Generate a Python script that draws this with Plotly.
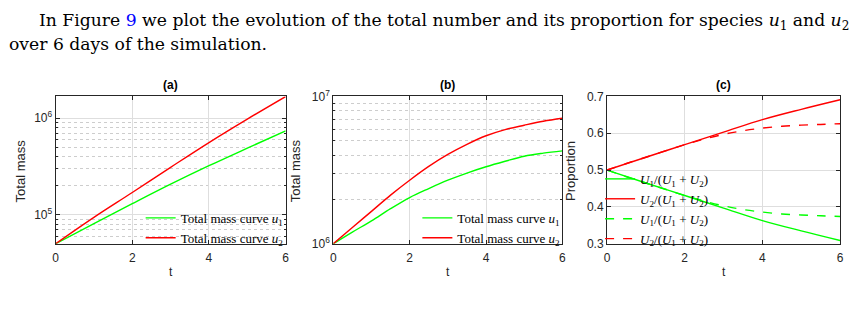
import plotly.graph_objects as go

# ---------------- data ----------------
t_a = [0, 1, 2, 3, 4, 5, 6]
mass_a_u1 = [5.0e4, 8.1e4, 1.30e5, 2.07e5, 3.22e5, 4.9e5, 7.4e5]
mass_a_u2 = [5.0e4, 9.4e4, 1.70e5, 3.10e5, 5.60e5, 9.8e5, 1.68e6]

t_b = [0, 0.5, 1, 1.5, 2, 2.5, 3, 3.5, 4, 4.5, 5, 5.5, 6]
mass_b_u1 = [1.0e6, 1.20e6, 1.43e6, 1.73e6, 2.06e6, 2.37e6, 2.70e6, 3.02e6, 3.33e6, 3.63e6, 3.93e6, 4.12e6, 4.27e6]
mass_b_u2 = [1.0e6, 1.29e6, 1.66e6, 2.14e6, 2.70e6, 3.35e6, 4.04e6, 4.73e6, 5.41e6, 5.96e6, 6.38e6, 6.79e6, 7.11e6]

t_c = [0, 1, 2, 3, 4, 5, 6]
prop_solid_u1 = [0.5, 0.465, 0.431, 0.397, 0.363, 0.335, 0.309]
prop_solid_u2 = [0.5, 0.535, 0.569, 0.603, 0.637, 0.665, 0.691]
t_cd = [0, 0.5, 1, 1.5, 2, 2.5, 3, 3.5, 4, 4.5, 5, 5.5, 6]
prop_dash_u2 = [0.5, 0.518, 0.535, 0.552, 0.569, 0.584, 0.597, 0.607, 0.614, 0.619, 0.622, 0.624, 0.626]
prop_dash_u1 = [0.5, 0.482, 0.465, 0.448, 0.431, 0.416, 0.403, 0.393, 0.386, 0.381, 0.378, 0.376, 0.374]

x_ticks = [0, 2, 4, 6]
panel_titles = ["(a)", "(b)", "(c)"]

GREEN = "#00ff00"
RED = "#ff0000"
W = 857
H = 323

def px_x(p):
    return p / W

def px_y(p):
    return 1 - p / H

SERIF = "DejaVu Serif"
LSERIF = "Liberation Serif"
SANS = "Liberation Sans"
AXC = "#262626"

fig = go.Figure()

lab_u1 = "Total mass curve <i>u</i><sub>1</sub>"
lab_u2 = "Total mass curve <i>u</i><sub>2</sub>"
lab_p1 = "<i>U</i><sub>1</sub>/(<i>U</i><sub>1</sub> + <i>U</i><sub>2</sub>)"
lab_p2 = "<i>U</i><sub>2</sub>/(<i>U</i><sub>1</sub> + <i>U</i><sub>2</sub>)"

lw = 1.4
fig.add_trace(go.Scatter(x=t_a, y=mass_a_u1, mode="lines", line=dict(color=GREEN, width=lw, shape="spline"),
                         name=lab_u1, xaxis="x", yaxis="y", legend="legend"))
fig.add_trace(go.Scatter(x=t_a, y=mass_a_u2, mode="lines", line=dict(color=RED, width=lw, shape="spline"),
                         name=lab_u2, xaxis="x", yaxis="y", legend="legend"))
fig.add_trace(go.Scatter(x=t_b, y=mass_b_u1, mode="lines", line=dict(color=GREEN, width=lw, shape="spline"),
                         name=lab_u1, xaxis="x2", yaxis="y2", legend="legend2"))
fig.add_trace(go.Scatter(x=t_b, y=mass_b_u2, mode="lines", line=dict(color=RED, width=lw, shape="spline"),
                         name=lab_u2, xaxis="x2", yaxis="y2", legend="legend2"))
fig.add_trace(go.Scatter(x=t_c, y=prop_solid_u1, mode="lines", line=dict(color=GREEN, width=lw, shape="spline"),
                         name=lab_p1, xaxis="x3", yaxis="y3", legend="legend3"))
fig.add_trace(go.Scatter(x=t_c, y=prop_solid_u2, mode="lines", line=dict(color=RED, width=lw, shape="spline"),
                         name=lab_p2, xaxis="x3", yaxis="y3", legend="legend3"))
fig.add_trace(go.Scatter(x=t_cd, y=prop_dash_u1, mode="lines", line=dict(color=GREEN, width=lw, dash="dash", shape="spline"),
                         name=lab_p1, xaxis="x3", yaxis="y3", legend="legend3"))
fig.add_trace(go.Scatter(x=t_cd, y=prop_dash_u2, mode="lines", line=dict(color=RED, width=lw, dash="dash", shape="spline"),
                         name=lab_p2, xaxis="x3", yaxis="y3", legend="legend3"))

ydom = [px_y(247), px_y(92)]
xdoms = [[px_x(53), px_x(285)], [px_x(333), px_x(564)], [px_x(609), px_x(844)]]

tickfont = dict(family=SANS, size=12, color=AXC)
common = dict(showline=True, linecolor=AXC, linewidth=1, mirror="allticks", ticks="inside",
              ticklen=4, tickcolor=AXC, tickfont=tickfont, showgrid=True,
              gridcolor="#dedede", gridwidth=1, zeroline=False)

for i, dom in enumerate(xdoms):
    key = "xaxis" if i == 0 else f"xaxis{i+1}"
    anchor = "y" if i == 0 else f"y{i+1}"
    fig.layout[key] = dict(domain=dom, anchor=anchor, range=[0, 6], tickvals=x_ticks,
                           ticklabelstandoff=3, **common)

minor_a = [k * 1e4 for k in range(6, 10)] + [k * 1e5 for k in range(2, 10)]
minor_b = [k * 1e6 for k in range(2, 10)]
minor_style = dict(ticks="inside", ticklen=2, tickcolor=AXC, showgrid=True,
                   gridcolor="#cdcdcd", griddash="dot", gridwidth=1)

fig.layout["yaxis"] = dict(domain=ydom, anchor="x", type="log", range=[4.699, 6.226],
                           tickvals=[1e5, 1e6], ticktext=["10<sup>5</sup>", "10<sup>6</sup>"],
                           minor=dict(tickvals=minor_a, **minor_style), **common)
fig.layout["yaxis2"] = dict(domain=ydom, anchor="x2", type="log", range=[6, 7],
                            tickvals=[1e6, 1e7], ticktext=["10<sup>6</sup>", "10<sup>7</sup>"],
                            minor=dict(tickvals=minor_b, **minor_style), **common)
fig.layout["yaxis3"] = dict(domain=ydom, anchor="x3", range=[0.3, 0.7],
                            tickvals=[0.3, 0.4, 0.5, 0.6, 0.7], ticktext=["0.3", "0.4", "0.5", "0.6", "0.7"],
                            **common)

legfont = dict(family=LSERIF, size=13, color="#000000")
legcommon = dict(bgcolor="rgba(0,0,0,0)", borderwidth=0, font=legfont, tracegroupgap=0,
                 itemwidth=30, xanchor="right", yanchor="top")
fig.layout["legend"] = dict(x=px_x(288), y=px_y(204), **legcommon)
fig.layout["legend2"] = dict(x=px_x(567), y=px_y(204), **legcommon)
fig.layout["legend3"] = dict(x=px_x(602), y=px_y(163), bgcolor="rgba(0,0,0,0)", borderwidth=0,
                             font=legfont, tracegroupgap=0, itemwidth=30, xanchor="left", yanchor="top")

annotations = []
# top paragraph text
annotations.append(dict(x=px_x(34), y=px_y(13), xref="paper", yref="paper", xanchor="left", yanchor="middle",
                        showarrow=False, font=dict(family=SERIF, size=17.2, color="#000000"),
                        text="In Figure <span style='color:#0000ff'>9</span> we plot the evolution of the total number and its proportion for species <i>u</i><sub>1</sub> and <i>u</i><sub>2</sub>"))
annotations.append(dict(x=px_x(4), y=px_y(37), xref="paper", yref="paper", xanchor="left", yanchor="middle",
                        showarrow=False, font=dict(family=SERIF, size=17.2, color="#000000"),
                        text="over 6 days of the simulation."))
# panel titles
for i, dom in enumerate(xdoms):
    annotations.append(dict(x=(dom[0] + dom[1]) / 2, y=px_y(80), xref="paper", yref="paper",
                            xanchor="center", yanchor="middle", showarrow=False,
                            font=dict(family=SANS, size=12, color="#000000"), text=f"<b>{panel_titles[i]}</b>"))
    annotations.append(dict(x=(dom[0] + dom[1]) / 2, y=px_y(277), xref="paper", yref="paper",
                            xanchor="center", yanchor="middle", showarrow=False,
                            font=dict(family=SANS, size=12, color=AXC), text="t"))
# y-axis titles
for xp, txt in [(18, "Total mass"), (295, "Total mass"), (572, "Proportion")]:
    annotations.append(dict(x=px_x(xp), y=px_y(170), xref="paper", yref="paper",
                            xanchor="center", yanchor="middle", showarrow=False, textangle=-90,
                            font=dict(family=SANS, size=13, color=AXC), text=txt))

fig.update_layout(width=W, height=H, margin=dict(l=0, r=0, t=0, b=0), autosize=False,
                  paper_bgcolor="white", plot_bgcolor="white", showlegend=True,
                  annotations=annotations)

fig.write_html("out.html")
